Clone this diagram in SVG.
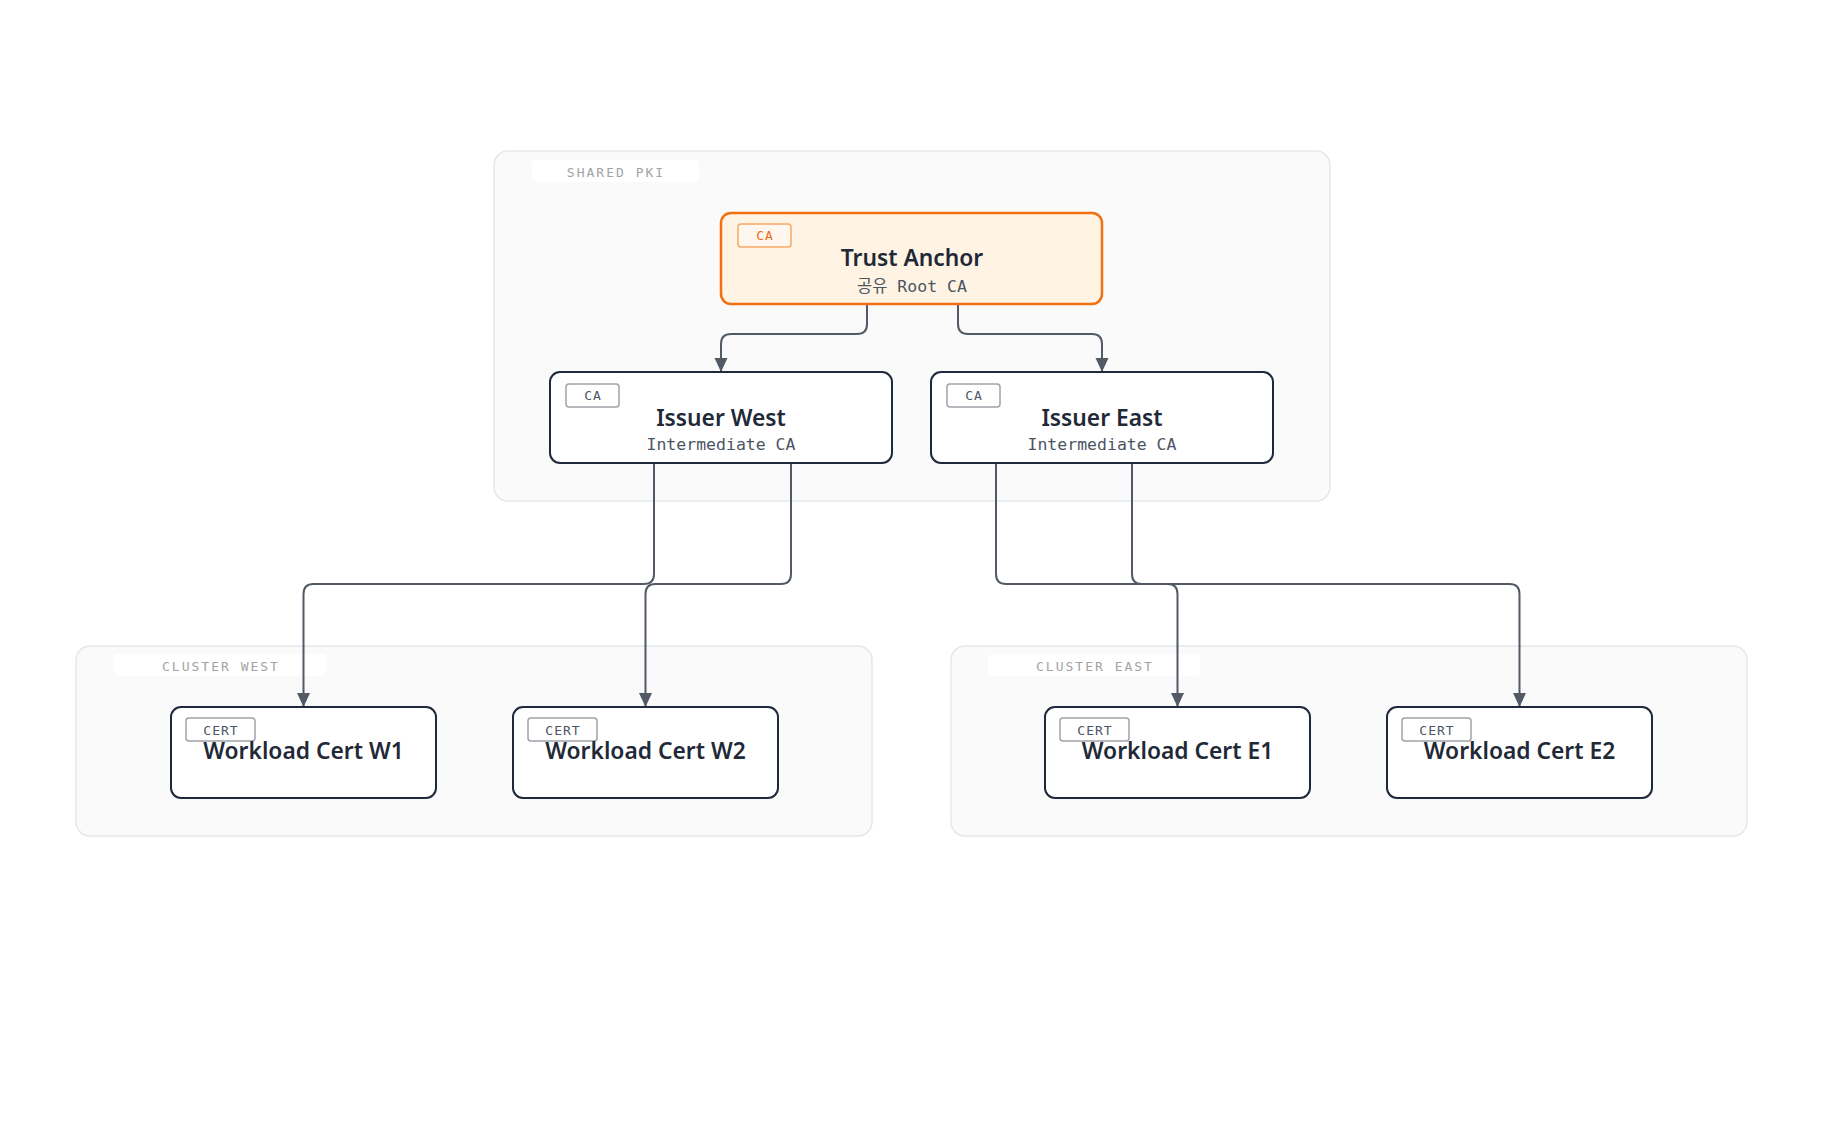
<svg xmlns="http://www.w3.org/2000/svg" width="1824" height="1140" viewBox="0 0 1824 1140">
<defs>
<style>
.grp{fill:#fafafa;stroke:#e5e7eb;stroke-width:1.5}
.glbg{fill:#ffffff;fill-opacity:0.85}
.glabel{font-family:"DejaVu Sans Mono","Liberation Mono",monospace;font-size:13px;letter-spacing:2px;fill:#a3a3a3;text-anchor:middle}
.node{fill:#ffffff;stroke:#1e293b;stroke-width:2}
.root{fill:#fff4e3;stroke:#f07012;stroke-width:2.5}
.badge{fill:#ffffff;stroke:#a1a1aa;stroke-width:1.5}
.badge-o{fill:#fff7ed;stroke:#f6a867;stroke-width:1.5}
.btext{font-family:"DejaVu Sans Mono","Liberation Mono",monospace;font-size:13px;letter-spacing:1px;fill:#4b5563;text-anchor:middle}
.btext-o{fill:#ea6a0f}
.title{font-family:"Noto Sans","Open Sans",sans-serif;font-size:22.8px;font-weight:600;fill:#1f2937;text-anchor:middle}
.sub{font-family:"DejaVu Sans Mono","Noto Sans CJK KR",monospace;font-size:16.5px;fill:#4b5563;text-anchor:middle}
.edge{fill:none;stroke:#525a66;stroke-width:2}
</style>
<marker id="arr" markerWidth="14" markerHeight="15" refX="14" refY="6.5" orient="auto" markerUnits="userSpaceOnUse">
<path d="M0,0 L14,6.5 L0,13 z" fill="#525a66"/>
</marker>
</defs>
<rect width="1824" height="1140" fill="#ffffff"/>

<g id="group-shared-pki">
<rect class="grp" x="494" y="151" width="836" height="350" rx="14"/>
<rect class="glbg" x="532" y="160" width="167" height="22" rx="4"/>
<text class="glabel" x="616" y="177">SHARED PKI</text>
</g>
<g id="group-cluster-west">
<rect class="grp" x="76" y="646" width="796" height="190" rx="14"/>
<rect class="glbg" x="114" y="654" width="212" height="22" rx="4"/>
<text class="glabel" x="221" y="671">CLUSTER WEST</text>
</g>
<g id="group-cluster-east">
<rect class="grp" x="951" y="646" width="796" height="190" rx="14"/>
<rect class="glbg" x="988" y="654" width="212" height="22" rx="4"/>
<text class="glabel" x="1095" y="671">CLUSTER EAST</text>
</g>

<g id="connectors">
<path class="edge" marker-end="url(#arr)" d="M867,304 V324 Q867,334 857,334 H731 Q721,334 721,344 V372"/>
<path class="edge" marker-end="url(#arr)" d="M958,304 V324 Q958,334 968,334 H1092 Q1102,334 1102,344 V372"/>
<path class="edge" marker-end="url(#arr)" d="M654,463 V574 Q654,584 644,584 H313.5 Q303.5,584 303.5,594 V707"/>
<path class="edge" marker-end="url(#arr)" d="M791,463 V574 Q791,584 781,584 H655.5 Q645.5,584 645.5,594 V707"/>
<path class="edge" marker-end="url(#arr)" d="M996,463 V574 Q996,584 1006,584 H1167.5 Q1177.5,584 1177.5,594 V707"/>
<path class="edge" marker-end="url(#arr)" d="M1132,463 V574 Q1132,584 1142,584 H1509.5 Q1519.5,584 1519.5,594 V707"/>
</g>

<g id="node-trust-anchor">
<rect class="root" x="721" y="213" width="381" height="91" rx="10"/>
<rect class="badge-o" x="738" y="224" width="53" height="23" rx="3"/>
<text class="btext btext-o" x="765" y="240">CA</text>
<text class="title" x="912" y="266">Trust Anchor</text>
<text class="sub" x="912" y="292">공유 Root CA</text>
</g>

<g id="node-issuer-west">
<rect class="node" x="550" y="372" width="342" height="91" rx="10"/>
<rect class="badge" x="566" y="384" width="53" height="23" rx="3"/>
<text class="btext" x="593" y="400">CA</text>
<text class="title" x="721" y="426">Issuer West</text>
<text class="sub" x="721" y="450">Intermediate CA</text>
</g>

<g id="node-issuer-east">
<rect class="node" x="931" y="372" width="342" height="91" rx="10"/>
<rect class="badge" x="947" y="384" width="53" height="23" rx="3"/>
<text class="btext" x="974" y="400">CA</text>
<text class="title" x="1102" y="426">Issuer East</text>
<text class="sub" x="1102" y="450">Intermediate CA</text>
</g>

<g id="node-cert-w1">
<rect class="node" x="171" y="707" width="265" height="91" rx="10"/>
<rect class="badge" x="186" y="718" width="69" height="23" rx="3"/>
<text class="btext" x="221" y="735">CERT</text>
<text class="title" x="303.5" y="759">Workload Cert W1</text>
</g>

<g id="node-cert-w2">
<rect class="node" x="513" y="707" width="265" height="91" rx="10"/>
<rect class="badge" x="528" y="718" width="69" height="23" rx="3"/>
<text class="btext" x="563" y="735">CERT</text>
<text class="title" x="645.5" y="759">Workload Cert W2</text>
</g>

<g id="node-cert-e1">
<rect class="node" x="1045" y="707" width="265" height="91" rx="10"/>
<rect class="badge" x="1060" y="718" width="69" height="23" rx="3"/>
<text class="btext" x="1095" y="735">CERT</text>
<text class="title" x="1177.5" y="759">Workload Cert E1</text>
</g>

<g id="node-cert-e2">
<rect class="node" x="1387" y="707" width="265" height="91" rx="10"/>
<rect class="badge" x="1402" y="718" width="69" height="23" rx="3"/>
<text class="btext" x="1437" y="735">CERT</text>
<text class="title" x="1519.5" y="759">Workload Cert E2</text>
</g>
</svg>
